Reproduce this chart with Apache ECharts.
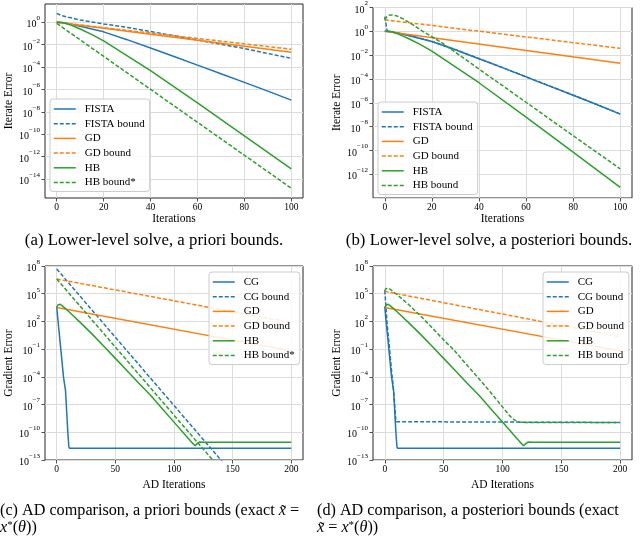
<!DOCTYPE html>
<html>
<head>
<meta charset="utf-8">
<script src="https://cdn.jsdelivr.net/npm/echarts@6.0.0/dist/echarts.min.js"></script>
<style>html,body{margin:0;padding:0;background:#fff;}#chart{width:640px;height:536px;}</style>
</head>
<body>
<div id="chart"></div>
<script>
// ---------------- data ----------------
const xTicksLower = [0, 20, 40, 60, 80, 100];
const xTicksAD = [0, 50, 100, 150, 200];
const yTicksA = [1e-14, 1e-12, 1e-10, 1e-8, 1e-6, 1e-4, 1e-2, 1];

// (a) lower-level solve, a priori bounds
const aFista = [[0,1],[2,0.93],[5,0.76],[10,0.45],[15,0.25],[20,0.14],[30,2.8e-2],[40,5.0e-3],[50,8.9e-4],[60,1.5e-4],[70,2.5e-5],[80,4.3e-6],[90,7.1e-7],[100,1.1e-7]];
const aFistaBound = [[0,6.3],[2,4.0],[5,2.8],[10,1.6],[20,0.71],[30,0.35],[40,0.15],[60,2.6e-2],[80,4.5e-3],[100,6.0e-4]];
const aGD = [[0,1],[100,2.1e-3]];
const aGDBound = [[0,1],[100,3.9e-3]];
const aHB = [[0,1],[2,1.02],[4,0.79],[6,0.56],[8,0.38],[10,0.25],[15,7.9e-2],[20,2.2e-2],[40,4.8e-5],[60,6.3e-8],[80,7.1e-11],[100,7.9e-14]];
const aHBBound = [[0,0.8],[100,1.5e-15]];

// (b) lower-level solve, a posteriori bounds
const bFista = aFista;
const bFistaBound = [[0,17],[1,1.1],[2,0.94],[5,0.77],[10,0.46],[15,0.26],[20,0.14],[30,2.9e-2],[40,5.1e-3],[50,9.0e-4],[60,1.5e-4],[70,2.6e-5],[80,4.4e-6],[90,7.3e-7],[100,1.15e-7]];
const bGD = aGD;
const bGDBound = [[0,9.3],[100,3.7e-2]];
const bHB = aHB;
const bHBBound = [[0,9.3],[1,17.8],[2,22.9],[3,24],[5,20],[8,10.5],[12,3.5],[16,1.05],[20,0.35],[24,0.12],[40,6.8e-4],[60,1.1e-6],[80,1.7e-9],[100,2.8e-12]];

// (c) AD comparison, a priori bounds
const cCG = [[0,4.0e3],[1,158],[2,7.9],[3,0.4],[4,2.0e-2],[5,1.0e-3],[5.8,8.9e-5],[6.3,1.26e-4],[6.8,7.9e-5],[7.5,3.2e-6],[8.5,1.6e-8],[9.5,7.9e-11],[10.3,3.2e-12],[10.8,1.86e-12],[200,1.86e-12]];
const cCGBound = [[0,4.7e7],[141,7.0e-14]];
const cGD = [[0,3.3e3],[200,6.5e-2]];
const cGDBound = [[0,3.9e6],[200,74]];
const cHB = [[0,3.2e3],[1,6.0e3],[2,7.4e3],[3,7.1e3],[5,4.5e3],[10,1.26e3],[20,79],[30,4.5],[40,0.22],[50,1.0e-2],[60,4.5e-4],[70,2.0e-5],[80,1.0e-6],[90,3.5e-8],[100,1.26e-9],[110,4.5e-11],[116,6.3e-12],[118,3.5e-12],[119,5.0e-12],[120,6.3e-12],[122,8.9e-12],[125,8.3e-12],[200,8.3e-12]];
const cHBBound = [[0,3.9e6],[134,7.0e-14]];

// (d) AD comparison, a posteriori bounds
const dCG = cCG;
const dCGBound = [[0,2.3e5],[1,4.0e3],[2,50],[3,2.5],[4,0.126],[5,5.0e-3],[6,2.0e-4],[6.5,6.3e-5],[7,4.0e-5],[8,5.0e-7],[9,7.9e-9],[9.5,1.4e-9],[10,1.15e-9],[200,1.15e-9]];
const dGD = cGD;
const dGDBound = [[0,1.8e5],[200,2.2]];
const dHB = cHB;
const dHBBound = [[0,2.0e5],[1,3.5e5],[2,4.2e5],[3,4.0e5],[5,2.8e5],[10,8.9e4],[20,7.1e3],[30,447],[40,22],[50,1.0],[58,0.1],[70,1.8e-3],[80,6.3e-5],[90,2.0e-6],[100,5.6e-8],[106,6.3e-9],[110,2.2e-9],[114,1.3e-9],[118,1.15e-9],[200,1.15e-9]];

const legendA = ['FISTA','FISTA bound','GD','GD bound','HB','HB bound*'];
const legendB = ['FISTA','FISTA bound','GD','GD bound','HB','HB bound'];
const legendC = ['CG','CG bound','GD','GD bound','HB','HB bound*'];
const legendD = ['CG','CG bound','GD','GD bound','HB','HB bound'];

// ---------------- styling ----------------
const FONT = 'Liberation Serif';
const BLUE = '#1f77b4', ORANGE = '#ff7f0e', GREEN = '#2ca02c';
const FRAME = '#262626', GRIDC = '#dcdcdc';

function supLabel(v) {
  const e = Math.round(Math.log10(v));
  return '{b|10}{s|' + (e < 0 ? '\u2212' + (-e) : String(e)) + '}';
}
const yRich = {
  b: {fontSize: 10, fontFamily: FONT, color: '#000', lineHeight: 15, verticalAlign: 'bottom'},
  s: {fontSize: 7, fontFamily: FONT, color: '#000', verticalAlign: 'top'}
};

function grid(left, top, width, height) {
  return {left, top, width, height, show: true, borderColor: FRAME, borderWidth: 1, backgroundColor: 'transparent', containLabel: false};
}
function xAxis(gi, min, max, ticks, name, gap) {
  return {
    type: 'value', gridIndex: gi, min, max,
    axisLine: {show: false, onZero: false},
    axisTick: {show: true, length: 3.5, lineStyle: {color: FRAME, width: 0.8}, customValues: ticks},
    axisLabel: {customValues: ticks, fontFamily: FONT, fontSize: 9.5, color: '#000', margin: 4},
    splitLine: {show: true, lineStyle: {color: GRIDC, width: 1}},
    name, nameLocation: 'middle', nameGap: gap,
    nameTextStyle: {fontFamily: FONT, fontSize: 11.5, color: '#000'}
  };
}
function yAxis(gi, min, max, name, extra) {
  const ax = {
    type: 'log', logBase: 10, gridIndex: gi, min, max,
    axisLine: {show: false, onZero: false},
    axisTick: {show: true, length: 3.5, lineStyle: {color: FRAME, width: 0.8}},
    axisLabel: {formatter: supLabel, rich: yRich, margin: 5, color: '#000'},
    splitLine: {show: true, lineStyle: {color: GRIDC, width: 1}},
    minorTick: {show: false}, minorSplitLine: {show: false},
    name, nameLocation: 'middle', nameGap: 29,
    nameTextStyle: {fontFamily: FONT, fontSize: 11.5, color: '#000'}
  };
  if (extra.interval != null) ax.interval = extra.interval;
  if (extra.ticks) { ax.axisTick.customValues = extra.ticks; ax.axisLabel.customValues = extra.ticks; }
  if (extra.hideMin) ax.axisLabel.showMinLabel = false;
  return ax;
}
function line(name, data, color, dashed, gi) {
  return {
    type: 'line', name, data, xAxisIndex: gi, yAxisIndex: gi,
    symbol: 'none', showSymbol: false, clip: true, silent: true, animation: false,
    lineStyle: {color, width: 1.5, type: dashed ? [4, 2] : 'solid'},
    itemStyle: {color}
  };
}
function legend(left, top, names) {
  return {
    left, top, orient: 'vertical', data: names, selectedMode: false,
    itemWidth: 22, itemHeight: 10, itemGap: 2.7, padding: [4, 5, 3, 3],
    backgroundColor: 'rgba(255,255,255,0.85)', borderColor: '#cccccc', borderWidth: 1, borderRadius: 3,
    lineStyle: {width: 1.5},
    itemStyle: {opacity: 0, borderWidth: 0},
    textStyle: {fontFamily: FONT, fontSize: 11, color: '#000', lineHeight: 12, padding: [0, 0, 0, 4]}
  };
}
function capRich(size) {
  return {
    i: {fontFamily: FONT, fontSize: size, fontStyle: 'italic', color: '#000'},
    s: {fontFamily: FONT, fontSize: Math.round(size * 0.65), color: '#000', verticalAlign: 'top'}
  };
}
function caption(x, y, text, align, size) {
  return {type: 'text', x, y, silent: true,
    style: {text, fill: '#000', fontFamily: FONT, fontSize: size, align: align, verticalAlign: 'middle', rich: capRich(size)}};
}

const option = {
  animation: false,
  backgroundColor: '#fff',
  grid: [grid(45, 4, 258, 194), grid(373, 4, 259, 194), grid(45, 266, 258, 194), grid(373, 266, 259, 194)],
  xAxis: [
    xAxis(0, -5, 105, xTicksLower, 'Iterations', 13),
    xAxis(1, -5, 105, xTicksLower, 'Iterations', 13),
    xAxis(2, -10, 210, xTicksAD, 'AD Iterations', 19),
    xAxis(3, -10, 210, xTicksAD, 'AD Iterations', 19)
  ],
  yAxis: [
    yAxis(0, 2.0e-16, 43, 'Iterate Error', {ticks: yTicksA}),
    yAxis(1, 1e-14, 1e2, 'Iterate Error', {interval: 2, hideMin: true}),
    yAxis(2, 1e-13, 1e8, 'Gradient Error', {interval: 3}),
    yAxis(3, 1e-13, 1e8, 'Gradient Error', {interval: 3})
  ],
  legend: [legend(50, 99, legendA), legend(378, 102, legendB), legend(209, 272, legendC), legend(543, 272, legendD)],
  series: [
    line('FISTA', aFista, BLUE, false, 0), line('FISTA bound', aFistaBound, BLUE, true, 0),
    line('GD', aGD, ORANGE, false, 0), line('GD bound', aGDBound, ORANGE, true, 0),
    line('HB', aHB, GREEN, false, 0), line('HB bound*', aHBBound, GREEN, true, 0),

    line('FISTA', bFista, BLUE, false, 1), line('FISTA bound', bFistaBound, BLUE, true, 1),
    line('GD', bGD, ORANGE, false, 1), line('GD bound', bGDBound, ORANGE, true, 1),
    line('HB', bHB, GREEN, false, 1), line('HB bound', bHBBound, GREEN, true, 1),

    line('CG', cCG, BLUE, false, 2), line('CG bound', cCGBound, BLUE, true, 2),
    line('GD', cGD, ORANGE, false, 2), line('GD bound', cGDBound, ORANGE, true, 2),
    line('HB', cHB, GREEN, false, 2), line('HB bound*', cHBBound, GREEN, true, 2),

    line('CG', dCG, BLUE, false, 3), line('CG bound', dCGBound, BLUE, true, 3),
    line('GD', dGD, ORANGE, false, 3), line('GD bound', dGDBound, ORANGE, true, 3),
    line('HB', dHB, GREEN, false, 3), line('HB bound', dHBBound, GREEN, true, 3)
  ],
  graphic: [
    caption(154, 241, '(a) Lower-level solve, a priori bounds.', 'center', 16.8),
    caption(489, 241, '(b) Lower-level solve, a posteriori bounds.', 'center', 16.8),
    caption(0, 511, '(c) AD comparison, a priori bounds (exact {i|x\u0303} =', 'left', 16.2),
    caption(0, 528, '{i|x}{s|*}({i|\u03b8}))', 'left', 16.2),
    caption(317, 511, '(d) AD comparison, a posteriori bounds (exact', 'left', 16.2),
    caption(317, 528, '{i|x\u0303} = {i|x}{s|*}({i|\u03b8}))', 'left', 16.2)
  ]
};

const chart = echarts.init(document.getElementById('chart'), null, {renderer: 'canvas'});
chart.setOption(option);
</script>
</body>
</html>
